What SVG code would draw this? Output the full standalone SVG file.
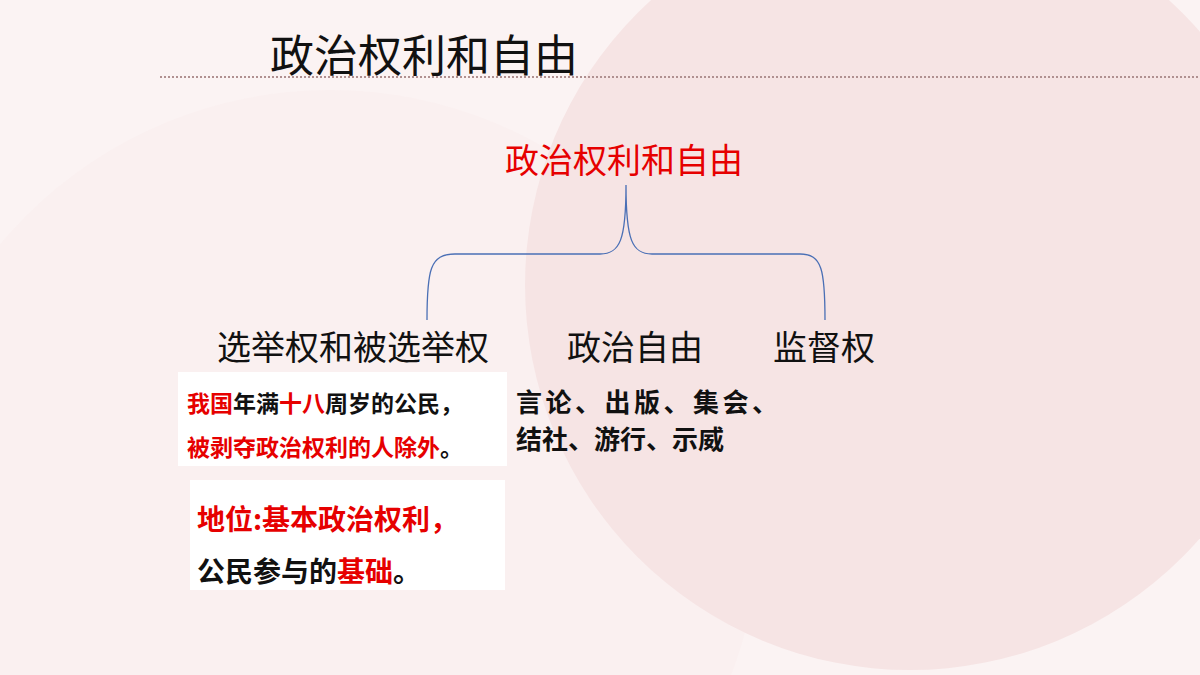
<svg xmlns="http://www.w3.org/2000/svg" width="1200" height="675" viewBox="0 0 1200 675">
<style>
text{font-family:"Noto Sans CJK SC","Liberation Sans",sans-serif}
.h{font-size:34px;fill:#111}
.r{fill:#e60000}
.s{font-size:23px;font-weight:bold;fill:#111}
.m{font-size:28px;font-weight:bold;fill:#111}
.t{font-size:26px;font-weight:bold;fill:#111}
</style>
<rect width="1200" height="675" fill="#fbf3f3"/>
<circle cx="330" cy="520" r="430" fill="#faf0f0"/>
<circle cx="910" cy="285" r="385" fill="#f6e4e4"/>
<g id="title"><text x="270" y="72" font-size="44" fill="#111">政治权利和自由</text>
<line x1="160" y1="77" x2="1200" y2="77" stroke="#b09090" stroke-width="2" stroke-dasharray="2,2"/></g>
<g id="root"><text x="624" y="173" font-size="34" fill="#e60000" text-anchor="middle">政治权利和自由</text></g>
<g id="connectors" fill="none" stroke="#4a6fb5" stroke-width="1.3">
<path d="M427,320 C427,270 430,254 455,254 L600,254 C620,254 626,240 626,185 C626,240 632,254 652,254 L800,254 C822,254 825,270 825,320"/>
</g>
<g id="n1"><text class="h" x="353" y="360" text-anchor="middle">选举权和被选举权</text></g>
<g id="n2"><text class="h" x="635" y="360" text-anchor="middle">政治自由</text></g>
<g id="n3"><text class="h" x="824" y="360" text-anchor="middle">监督权</text></g>
<g id="d1"><rect x="178" y="372" width="329" height="94" fill="#fff"/>
<text class="s" x="187" y="412"><tspan class="r">我国</tspan>年满<tspan class="r">十八</tspan>周岁的公民，</text>
<text class="s" x="187" y="456"><tspan class="r">被剥夺政治权利的人除外</tspan>。</text></g>
<g id="d2"><rect x="190" y="480" width="315" height="110" fill="#fff"/>
<text class="m" x="197" y="530" style="fill:#e60000">地位:基本政治权利，</text>
<text class="m" x="197" y="582">公民参与的<tspan class="r">基础</tspan>。</text></g>
<g id="d3"><text class="t" x="516" y="412" textLength="262">言论、出版、集会、</text>
<text class="t" x="516" y="449">结社、游行、示威</text></g>
</svg>
